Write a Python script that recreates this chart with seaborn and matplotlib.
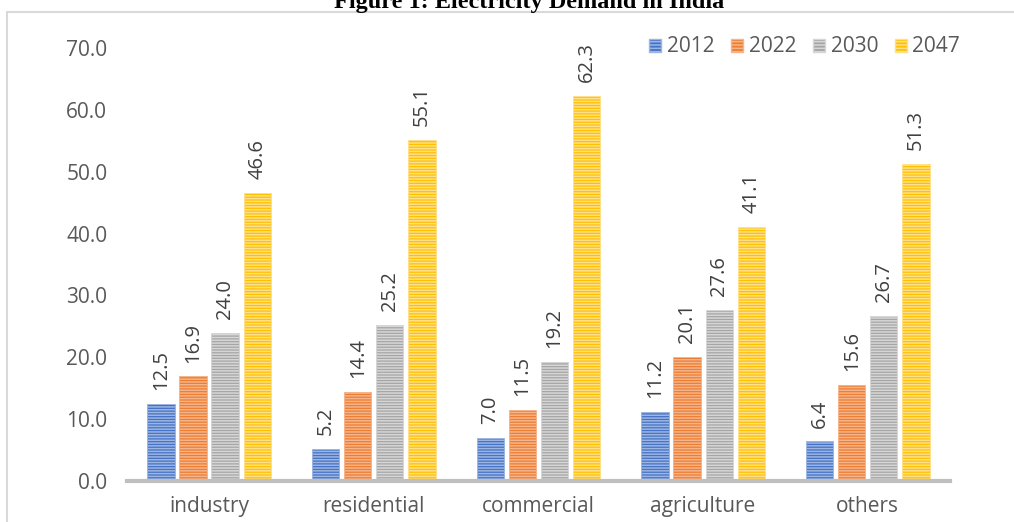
import matplotlib
matplotlib.use("Agg")
import matplotlib.pyplot as plt
import seaborn as sns
import pandas as pd
from matplotlib.patches import Rectangle

categories = ["industry", "residential", "commercial", "agriculture", "others"]
years = ["2012", "2022", "2030", "2047"]
v2012 = [12.5, 5.2, 7.0, 11.2, 6.4]
v2022 = [16.9, 14.4, 11.5, 20.1, 15.6]
v2030 = [24.0, 25.2, 19.2, 27.6, 26.7]
v2047 = [46.6, 55.1, 62.3, 41.1, 51.3]
yticks = [0, 10, 20, 30, 40, 50, 60, 70]

colors = ["#4472C4", "#ED7D31", "#A5A5A5", "#FFC000"]
stripes = ["#9DB5E3", "#F6B48A", "#D6D6D6", "#FFE08A"]

rows = []
for yr, vals in zip(years, [v2012, v2022, v2030, v2047]):
    for c, v in zip(categories, vals):
        rows.append({"category": c, "year": yr, "value": v})
df = pd.DataFrame(rows)

sns.set_theme(style="white")
plt.rcParams["font.family"] = ["Open Sans", "DejaVu Sans"]
plt.rcParams["hatch.linewidth"] = 1.1

fig = plt.figure(figsize=(10.14, 5.22), dpi=100)
ax = fig.add_axes([0.125, 0.0785, 0.812, 0.8295])

sns.barplot(data=df, x="category", y="value", hue="year", order=categories,
            hue_order=years, palette=colors, width=0.78, gap=0.15,
            saturation=1, ax=ax, errorbar=None)

for cont, sc in zip(ax.containers, stripes):
    for p in cont:
        p.set_hatch("------")
        p.set_edgecolor(sc)
        p.set_linewidth(0.6)
    ax.bar_label(cont, fmt="%.1f", rotation=90, padding=10, fontsize=14.5,
                 color="#404040")

ax.set_ylim(0, 70)
ax.set_yticks(yticks)
ax.set_yticklabels([f"{t:.1f}" for t in yticks], fontsize=15, color="#595959")
ax.tick_params(axis="x", labelsize=15, labelcolor="#595959", length=0, pad=11)
ax.tick_params(axis="y", length=0, pad=14)
ax.set_xlim(-0.5, 4.5)
ax.set_xlabel("")
ax.set_ylabel("")
for s in ["top", "right", "left"]:
    ax.spines[s].set_visible(False)
ax.spines["bottom"].set_color("#BFBFBF")
ax.spines["bottom"].set_linewidth(3)

handles, labels = ax.get_legend_handles_labels()
for h, sc in zip(handles, stripes):
    h.set_hatch("-----")
    h.set_edgecolor(sc)
leg = ax.legend(handles, labels, ncol=4, frameon=False, loc="upper right",
                bbox_to_anchor=(1.035, 1.07), fontsize=15, handlelength=0.6,
                handleheight=0.6, handletextpad=0.25, columnspacing=0.8,
                labelcolor="#595959")

fig.patches.append(Rectangle((7 / 1014, -0.1), 1.1, 1 - 12 / 522 + 0.1,
                             transform=fig.transFigure, fill=False,
                             edgecolor="#D9D9D9", linewidth=1.5, zorder=0))

fig.text(0.522, 1 - 8 / 522, "Figure 1: Electricity Demand in India",
         ha="center", va="baseline", fontsize=17.5, fontweight="bold",
         family="Liberation Serif", color="black")

fig.savefig("out.png", dpi=100)
